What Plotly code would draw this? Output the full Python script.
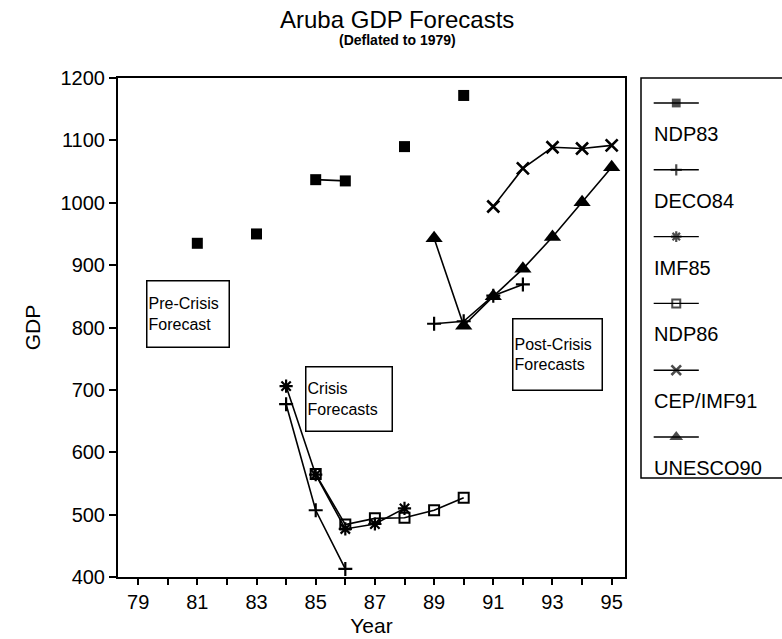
import plotly.graph_objects as go

# Forecast series (GDP deflated to 1979), by forecast year
ndp83_years = [81, 82, 83, 84, 85, 86, 87, 88, 89, 90]
ndp83_gdp = [935, None, 950, None, 1037, 1035, None, 1090, None, 1172]

deco84_years = [84, 85, 86, 87, 88, 89, 90, 91, 92]
deco84_gdp = [677, 507, 413, None, None, 806, 810, 851, 869]

imf85_years = [84, 85, 86, 87, 88]
imf85_gdp = [706, 564, 477, 485, 510]

ndp86_years = [85, 86, 87, 88, 89, 90]
ndp86_gdp = [565, 484, 494, 495, 507, 527]

cep91_years = [91, 92, 93, 94, 95]
cep91_gdp = [994, 1055, 1089, 1087, 1092]

unesco90_years = [89, 90, 91, 92, 93, 94, 95]
unesco90_gdp = [943, 803, 850, 894, 945, 1001, 1057]

series_names = ["NDP83", "DECO84", "IMF85", "NDP86", "CEP/IMF91", "UNESCO90"]
x_ticks = [79, 81, 83, 85, 87, 89, 91, 93, 95]

FONT = "Liberation Sans, Arial, sans-serif"

styles = [
    dict(symbol="square", size=11, line=dict(width=0)),
    dict(symbol="cross-thin-open", size=10, line=dict(width=2.2, color="black")),
    dict(symbol="asterisk-open", size=11, line=dict(width=2.2, color="black")),
    dict(symbol="square-open", size=10, line=dict(width=2, color="black")),
    dict(symbol="x-thin-open", size=12, line=dict(width=2.6, color="black")),
    dict(symbol="triangle-up", size=15, line=dict(width=0)),
]

data = [
    (ndp83_years, ndp83_gdp),
    (deco84_years, deco84_gdp),
    (imf85_years, imf85_gdp),
    (ndp86_years, ndp86_gdp),
    (cep91_years, cep91_gdp),
    (unesco90_years, unesco90_gdp),
]

fig = go.Figure()

for name, (xs, ys), st in zip(series_names, data, styles):
    fig.add_trace(go.Scatter(
        x=xs, y=ys, name=name, mode="lines+markers",
        connectgaps=False,
        line=dict(color="black", width=1.6),
        marker=dict(color="black", **st),
        showlegend=False,
    ))

# Hand-built legend: sample line with marker above each label
W, H = 782, 639
L, T, B = 118, 78, 62
plot_w = W - L
main_right = 625
legend_left = 641
x_main_dom = [0, (main_right - L) / plot_w]
x_leg_dom = [(legend_left - L) / plot_w, 1]

entry_top = 103
entry_step = 66.8
plot_h = H - T - B
for i, (name, st) in enumerate(zip(series_names, styles)):
    py = entry_top + i * entry_step
    yv = (H - B - py) / plot_h
    fig.add_trace(go.Scatter(
        x=[0.09, 0.25, 0.41], y=[yv, yv, yv],
        xaxis="x2", yaxis="y2", mode="lines+markers",
        line=dict(color="black", width=1.4),
        marker=dict(color="black", **{**st, "size": [0, st["size"] * 0.8, 0]}),
        showlegend=False, hoverinfo="skip",
    ))
    fig.add_annotation(
        x=0.08, y=(H - B - (py + 31)) / plot_h, xref="x2", yref="y2",
        text=name, showarrow=False, xanchor="left", yanchor="middle",
        font=dict(family=FONT, size=20, color="black"),
    )

# Legend frame
fig.add_shape(type="rect", xref="paper", yref="paper",
              x0=x_leg_dom[0], x1=1.05, y0=(H - B - 478) / plot_h, y1=1.0,
              line=dict(color="black", width=1.5))

box = dict(showarrow=False, align="left", bordercolor="black", borderwidth=1.5,
           borderpad=1, bgcolor="white", font=dict(family=FONT, size=16, color="black"),
           xanchor="center", yanchor="middle")
fig.add_annotation(x=80.7, y=822, text="Pre-Crisis<br>Forecast", width=79, height=63, **box)
fig.add_annotation(x=86.11, y=685, text="Crisis<br>Forecasts", width=83, height=61, **box)
fig.add_annotation(x=93.16, y=756, text="Post-Crisis<br>Forecasts", width=86, height=68, **box)

# Titles
fig.add_annotation(x=(397 - L) / plot_w, y=1 + (T - 19) / plot_h, xref="paper", yref="paper",
                   text="Aruba GDP Forecasts", showarrow=False, yanchor="middle",
                   font=dict(family=FONT, size=24, color="black"))
fig.add_annotation(x=(397 - L) / plot_w, y=1 + (T - 40) / plot_h, xref="paper", yref="paper",
                   text="<b>(Deflated to 1979)</b>", showarrow=False, yanchor="middle",
                   font=dict(family=FONT, size=14, color="black"))

fig.update_layout(
    width=W, height=H,
    margin=dict(l=L, r=0, t=T, b=B),
    paper_bgcolor="white", plot_bgcolor="white",
    font=dict(family=FONT, color="black"),
    xaxis=dict(
        domain=x_main_dom, range=[78.32, 95.45],
        tickmode="array", tickvals=x_ticks, ticktext=[str(v) for v in x_ticks],
        ticks="outside", ticklen=6, tickwidth=1.5, tickcolor="black",
        minor=dict(tickmode="linear", tick0=79, dtick=1, ticks="outside", ticklen=6,
                   tickwidth=1.5, tickcolor="black"),
        showline=True, linecolor="black", linewidth=2, mirror=True,
        showgrid=False, zeroline=False,
        tickfont=dict(family=FONT, size=20),
        title=dict(text="Year", font=dict(family=FONT, size=21), standoff=6),
    ),
    yaxis=dict(
        range=[400, 1200], tickmode="linear", tick0=400, dtick=100,
        ticks="outside", ticklen=7, tickwidth=1.5, tickcolor="black",
        showline=True, linecolor="black", linewidth=2, mirror=True,
        showgrid=False, zeroline=False,
        tickfont=dict(family=FONT, size=20),
        title=dict(text="GDP", font=dict(family=FONT, size=21), standoff=14),
    ),
    xaxis2=dict(domain=x_leg_dom, range=[0, 1], visible=False, fixedrange=True),
    yaxis2=dict(domain=[0, 1], range=[0, 1], visible=False, anchor="x2", fixedrange=True),
)

fig.write_html("out.html")
